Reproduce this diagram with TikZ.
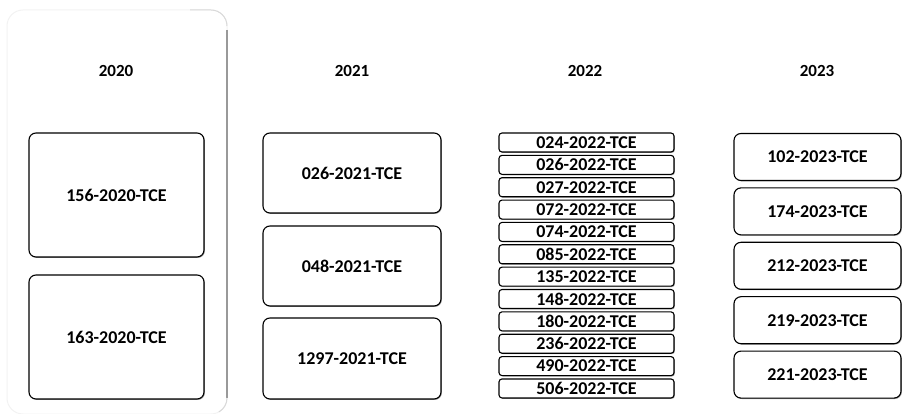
\documentclass[tikz,border=0pt]{standalone}
\usepackage{fontspec}
\setmainfont{Carlito}
\usetikzlibrary{shadows}

\tikzset{
  caso/.style={draw=black, line width=1.1pt, rounded corners=7pt, fill=white,
    inner sep=0pt, font=\fontsize{18}{20}\selectfont\bfseries,
    drop shadow={shadow xshift=0.9pt, shadow yshift=-0.9pt, fill=black!60, opacity=0.6}},
  casochico/.style={caso, rounded corners=3pt, minimum width=175pt, minimum height=19pt},
  anio/.style={font=\fontsize{17}{20}\selectfont\bfseries}
}

\begin{document}
\begin{tikzpicture}[x=1pt,y=-1pt]
  \useasboundingbox (0,0) rectangle (903,414);
  % panel 2020: borde casi blanco, solo el lado derecho se ve
  \draw[black!5, line width=1pt, rounded corners=16pt] (7,10) rectangle (227,414);
  \draw[black!15, line width=1pt] (190,10) -- (211,10) arc[start angle=90, end angle=0, radius=16pt];
  \draw[black!40, line width=1.2pt] (227,30) -- (227,398);
  \draw[black!15, line width=1pt] (227,398) arc[start angle=0, end angle=-60, radius=16pt];

  \node[anio] (a2020) at (116,71) {2020};
  \node[anio] (a2021) at (352,71) {2021};
  \node[anio] (a2022) at (585,71) {2022};
  \node[anio] (a2023) at (817,71) {2023};

  \node[caso, minimum width=175pt, minimum height=124pt] (c156) at (116.5,195) {156-2020-TCE};
  \node[caso, minimum width=175pt, minimum height=124pt] (c163) at (116.5,337) {163-2020-TCE};

  \node[caso, minimum width=178pt, minimum height=80pt] (c026) at (352,173) {026-2021-TCE};
  \node[caso, minimum width=178pt, minimum height=80pt] (c048) at (352,266) {048-2021-TCE};
  \node[caso, minimum width=178pt, minimum height=81pt] (c1297) at (352,358.5) {1297-2021-TCE};

  \foreach \cs [count=\i from 0] in {024,026,027,072,074,085,135,148,180,236,490,506}
    \node[casochico] (d\cs) at (586.5,{142.5+22.36*\i}) {\cs-2022-TCE};

  \foreach \cs [count=\i from 0] in {102,174,212,219,221}
    \node[caso, minimum width=167pt, minimum height=47pt] (e\cs) at (817.5,{157+54.4*\i}) {\cs-2023-TCE};
\end{tikzpicture}
\end{document}
